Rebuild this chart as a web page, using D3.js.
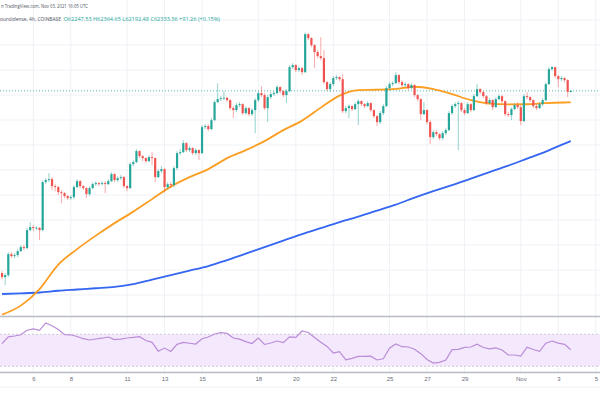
<!DOCTYPE html>
<html>
<head>
<meta charset="utf-8">
<script src="https://d3js.org/d3.v7.min.js"></script>
<style>
  body { margin: 0; background: #fff; }
  svg { display: block; font-family: "Open Sans", "DejaVu Sans", sans-serif; }
</style>
</head>
<body>
<div id="my_dataviz"></div>
<script>

    // BTC/USD 4h (Coinbase), one bar every 4 hours starting Oct 4 2021 08:00 UTC
    var firstBar = Date.UTC(2021, 9, 4, 8);
    var barMs = 4 * 3600 * 1000;
    var firstOpen = 47750;

    var closes = [
        47430, 47590, 49270, 49110, 49190, 49510, 49830, 49750, 51190, 51430,
        51350, 51380, 51190, 55030, 55190, 55270, 54710, 54630, 54230, 54150,
        53910, 53750, 53830, 54630, 55110, 54710, 54550, 54070, 54550, 54870,
        54950, 54870, 54950, 54870, 55110, 55670, 55190, 55350, 55430, 54710,
        54550, 56470, 56630, 57510, 57110, 56950, 56710, 57030, 56950, 55430,
        55910, 56070, 54630, 54870, 54790, 56150, 57350, 57430, 58150, 57590,
        57750, 57350, 57590, 57350, 59430, 59510, 59270, 59990, 61430, 61670,
        61750, 61780, 61590, 60950, 60790, 61190, 61270, 60550, 60950, 60470,
        60790, 61590, 62150, 61990, 60950, 61830, 62070, 62150, 62630, 62310,
        61990, 62310, 64230, 64390, 63990, 64150, 63830, 66870, 66550, 65990,
        65430, 65110, 64950, 63030, 62470, 62870, 63350, 63430, 63270, 60710,
        60950, 61110, 60870, 61270, 61510, 61270, 61110, 61350, 60790, 60310,
        59830, 60550, 61110, 62550, 62870, 62950, 63590, 63030, 62790, 62870,
        62550, 62790, 61990, 61670, 60470, 60790, 59830, 58630, 59030, 58870,
        58550, 58950, 59190, 60550, 61110, 61270, 61350, 60790, 60550, 61270,
        60790, 61910, 62470, 62230, 61910, 61350, 61590, 61030, 61670, 61910,
        61510, 60470, 60390, 60870, 61190, 61030, 59910, 61910, 61830, 61590,
        61110, 60950, 61270, 61590, 62870, 64070, 64230, 63510, 63270, 63350,
        63190, 62247.53, 62333.36
    ];
    var highs = [
        47910, 47750, 49430, 49430, 49350, 49670, 49990, 49990, 51350, 51830,
        51590, 51510, 51430, 55190, 55350, 55750, 55430, 54870, 54710, 54390,
        54230, 53990, 53990, 54790, 55270, 55190, 54790, 54630, 54710, 55030,
        55110, 55030, 55110, 55110, 55270, 55830, 55750, 55510, 55590, 55510,
        54790, 56630, 56790, 57670, 57590, 57190, 57030, 57190, 57430, 57030,
        56070, 56310, 56150, 55030, 55030, 56310, 57510, 57670, 58390, 58230,
        57910, 57830, 57750, 57670, 59590, 59670, 59670, 60150, 61590, 62950,
        61910, 62310, 61830, 61670, 61110, 61350, 61430, 61350, 61110, 61030,
        60950, 61750, 62310, 62710, 62150, 61990, 62230, 62310, 62790, 62710,
        62390, 62470, 64390, 64550, 64470, 64310, 64230, 66999, 66950, 66630,
        66070, 65590, 66630, 65590, 63110, 63030, 63510, 63590, 63510, 63670,
        61110, 61270, 61190, 61430, 61670, 61590, 61350, 61510, 61430, 60870,
        60390, 60710, 61270, 62710, 63030, 63110, 63830, 63670, 63190, 63030,
        62950, 62950, 62870, 62070, 61750, 61430, 60870, 59990, 59190, 59190,
        58950, 59110, 59350, 60710, 61270, 61430, 61510, 61430, 60950, 61430,
        61350, 62070, 62870, 62550, 62310, 61990, 61750, 61670, 61830, 62070,
        61990, 61590, 60630, 61030, 61350, 61430, 61190, 62070, 62230, 61910,
        61670, 61270, 61430, 61750, 63030, 64230, 64310, 64230, 63590, 63510,
        63430, 63270, 62364.65
    ];
    var lows = [
        47270, 46790, 47430, 48950, 48950, 49030, 49430, 49590, 49670, 51110,
        51110, 51190, 50390, 51110, 54870, 55030, 54390, 54310, 53990, 53350,
        53750, 53590, 53590, 53670, 54550, 54550, 54390, 53750, 53910, 54470,
        54710, 54710, 54790, 54150, 54790, 55030, 55030, 55030, 55190, 54550,
        54310, 54470, 56310, 56550, 56950, 56710, 56550, 56630, 56390, 55030,
        55350, 55750, 54230, 54470, 54550, 54630, 55990, 57190, 57350, 57430,
        57430, 57190, 57190, 56790, 57270, 59270, 59110, 59190, 59910, 61350,
        61510, 61590, 61430, 60790, 60150, 60630, 61030, 60390, 60390, 60310,
        60310, 58950, 61430, 61830, 60790, 59830, 61670, 61910, 62070, 62150,
        61830, 61350, 62230, 64070, 63830, 63830, 63590, 63750, 66390, 65830,
        64150, 64950, 64790, 62870, 62310, 62230, 62710, 63190, 63110, 60550,
        60550, 60150, 60710, 60790, 59590, 61110, 60950, 61030, 60630, 60150,
        59510, 59670, 60390, 61030, 62390, 62710, 62870, 62870, 62630, 62630,
        62390, 62470, 61830, 61510, 59990, 60390, 59670, 58070, 58470, 58710,
        58390, 58390, 58790, 59110, 60390, 60950, 57590, 60630, 60390, 60470,
        60630, 60710, 61830, 62070, 61750, 61190, 61270, 60790, 60950, 61590,
        61350, 60310, 60230, 59990, 60790, 60870, 59590, 59830, 61670, 61430,
        60950, 60790, 60870, 61110, 61510, 62790, 63910, 63350, 62630, 63110,
        63030, 61830, 62192.48
    ];

    // moving averages read once per day (every 6th bar) plus the last bar
    var maStep = 6;
    var ma50 = [44430, 45150, 46470, 48430, 49670, 50750, 51750, 52670, 53670, 54670,
        55430, 56070, 56950, 57590, 58310, 59190, 59950, 60990, 61950, 62390,
        62420, 62490, 62660, 62470, 62070, 61590, 61310, 61250, 61260, 61350,
        61400, 61410];
    var ma200 = [46080, 46130, 46200, 46340, 46440, 46540, 46650, 46870, 47230, 47590,
        47950, 48310, 48790, 49310, 49830, 50350, 50870, 51350, 51830, 52270,
        52750, 53230, 53790, 54310, 54790, 55310, 55830, 56350, 56910, 57470,
        58110, 58310];

    // RSI(14), every 2nd bar
    var rsiStep = 2;
    var rsiValues = [58.3, 66.9, 67.9, 69.4, 75.1, 76.8, 74.9, 84.3, 80.8, 76.0,
        69.6, 69.4, 67.3, 64.5, 62.9, 64.1, 65.1, 66.6, 63.3, 63.9,
        65.4, 66.1, 67.0, 62.3, 60.0, 48.9, 52.8, 48.5, 57.5, 59.8,
        58.8, 57.8, 64.5, 66.6, 70.4, 72.0, 71.1, 65.4, 63.9, 60.9,
        58.5, 65.4, 57.3, 59.1, 61.6, 59.5, 66.9, 66.1, 74.1, 72.3,
        65.9, 60.1, 54.8, 46.6, 48.3, 38.1, 40.0, 42.3, 42.4, 42.6,
        37.9, 39.4, 52.6, 57.9, 54.5, 54.1, 51.3, 45.8, 38.6, 34.1,
        34.9, 37.9, 50.8, 51.1, 53.6, 54.1, 57.6, 53.5, 51.9, 52.9,
        50.4, 44.1, 44.1, 42.9, 53.8, 51.0, 48.6, 58.8, 61.6, 59.0,
        57.5, 50.6];

    var tickDates = [Date.UTC(2021, 9, 6), Date.UTC(2021, 9, 8), Date.UTC(2021, 9, 11),
        Date.UTC(2021, 9, 13), Date.UTC(2021, 9, 15), Date.UTC(2021, 9, 18),
        Date.UTC(2021, 9, 20), Date.UTC(2021, 9, 22), Date.UTC(2021, 9, 25),
        Date.UTC(2021, 9, 27), Date.UTC(2021, 9, 29), Date.UTC(2021, 10, 1),
        Date.UTC(2021, 10, 3), Date.UTC(2021, 10, 5)];
    var tickLabels = ["6", "8", "11", "13", "15", "18", "20", "22", "25", "27", "29", "Nov", "3", "5"];

    var width = 600, height = 400;
    var up = "#26a69a", down = "#ef5350";

    var svg = d3.select("#my_dataviz")
        .append("svg")
        .attr("width", width)
        .attr("height", height);

    var x = d3.scaleUtc()
        .domain([tickDates[0], tickDates[tickDates.length - 1]])
        .range([33.3, 595.8]);
    var y = d3.scaleLinear()
        .domain([44400, 68000])
        .range([315, 20]);
    var yr = d3.scaleLinear()
        .domain([30, 70])
        .range([366.3, 334.3]);

    var bars = closes.map(function (c, i) {
        return { t: firstBar + i * barMs, o: i ? closes[i - 1] : firstOpen, h: highs[i], l: lows[i], c: c };
    });
    function barTime(i) { return firstBar + i * barMs; }

    // grid
    svg.append("g").selectAll("line")
        .data(tickDates).enter().append("line")
        .attr("x1", function (d) { return x(d) }).attr("x2", function (d) { return x(d) })
        .attr("y1", 0).attr("y2", 372)
        .attr("stroke", "#eef1f6").attr("stroke-width", 1);
    svg.append("g").selectAll("line")
        .data(y.ticks(10)).enter().append("line")
        .attr("x1", 0).attr("x2", width)
        .attr("y1", function (d) { return y(d) }).attr("y2", function (d) { return y(d) })
        .attr("stroke", "#eef1f6").attr("stroke-width", 1);

    svg.append("clipPath").attr("id", "mainClip")
        .append("rect").attr("x", 0).attr("y", 0).attr("width", width).attr("height", 316);
    var main = svg.append("g").attr("clip-path", "url(#mainClip)");

    // last price line
    main.append("line")
        .attr("x1", 0).attr("x2", width)
        .attr("y1", y(closes[closes.length - 1])).attr("y2", y(closes[closes.length - 1]))
        .attr("stroke", up).attr("stroke-width", 0.8)
        .attr("stroke-dasharray", "1,2");

    // moving averages
    var maLine = d3.line()
        .x(function (d, i) { return x(barTime(Math.min(i * maStep, closes.length - 1))) })
        .y(function (d) { return y(d) })
        .curve(d3.curveMonotoneX);
    main.append("path").datum(ma200)
        .attr("d", maLine).attr("fill", "none")
        .attr("stroke", "#3566f2").attr("stroke-width", 1.8);
    main.append("path").datum(ma50)
        .attr("d", maLine).attr("fill", "none")
        .attr("stroke", "#fb9e22").attr("stroke-width", 1.8);

    // candles
    main.append("g").selectAll("line")
        .data(bars).enter().append("line")
        .attr("x1", function (d) { return x(d.t) }).attr("x2", function (d) { return x(d.t) })
        .attr("y1", function (d) { return y(d.h) }).attr("y2", function (d) { return y(d.l) })
        .attr("stroke", function (d) { return d.c >= d.o ? up : down })
        .attr("stroke-opacity", 0.55)
        .attr("stroke-width", 0.9);
    main.append("g").selectAll("rect")
        .data(bars).enter().append("rect")
        .attr("x", function (d) { return x(d.t) - 1.1 })
        .attr("width", 2.2)
        .attr("y", function (d) { return y(Math.max(d.o, d.c)) })
        .attr("height", function (d) { return Math.max(0.8, Math.abs(y(d.o) - y(d.c))) })
        .attr("fill", function (d) { return d.c >= d.o ? up : down });

    // pane separators
    svg.append("line").attr("x1", 0).attr("x2", width).attr("y1", 316.5).attr("y2", 316.5)
        .attr("stroke", "#b8bbc4").attr("stroke-width", 1.4);
    svg.append("line").attr("x1", 0).attr("x2", width).attr("y1", 372.5).attr("y2", 372.5)
        .attr("stroke", "#b8bbc4").attr("stroke-width", 1.4);
    svg.append("line").attr("x1", 0).attr("x2", width).attr("y1", 387).attr("y2", 387)
        .attr("stroke", "#f0f1f4").attr("stroke-width", 1);

    // RSI pane
    svg.append("rect")
        .attr("x", 0).attr("width", width)
        .attr("y", yr(70)).attr("height", yr(30) - yr(70))
        .attr("fill", "#f3e8fc");
    svg.append("g").selectAll("line")
        .data([70, 30]).enter().append("line")
        .attr("x1", 0).attr("x2", width)
        .attr("y1", function (d) { return yr(d) }).attr("y2", function (d) { return yr(d) })
        .attr("stroke", "#c4c0cc").attr("stroke-width", 0.8)
        .attr("stroke-dasharray", "2,2");
    svg.append("path").datum(rsiValues)
        .attr("d", d3.line()
            .x(function (d, i) { return x(barTime(i * rsiStep)) })
            .y(function (d) { return yr(d) }))
        .attr("fill", "none")
        .attr("stroke", "#bb8cd8").attr("stroke-width", 1.2);

    // time axis
    var axis = svg.append("g")
        .attr("transform", "translate(0,377)")
        .call(d3.axisBottom(x).tickValues(tickDates)
            .tickFormat(function (d, i) { return tickLabels[i] })
            .tickSize(0).tickPadding(0));
    axis.select(".domain").remove();
    axis.selectAll("text")
        .attr("fill", "#6a6d78")
        .style("font-size", "6px");

    // header
    svg.append("text")
        .attr("x", 1).attr("y", 8)
        .attr("textLength", 87).attr("lengthAdjust", "spacingAndGlyphs")
        .attr("fill", "#50535e").style("font-size", "5.4px")
        .text("n TradingView.com, Nov 03, 2021 16:05 UTC");
    svg.append("text")
        .attr("x", 0).attr("y", 20.5)
        .attr("textLength", 61).attr("lengthAdjust", "spacingAndGlyphs")
        .attr("fill", "#50535e").style("font-size", "5.4px")
        .text("ourslidense, 4h, COINBASE");
    svg.append("text")
        .attr("x", 63.5).attr("y", 20.5)
        .attr("textLength", 156.5).attr("lengthAdjust", "spacingAndGlyphs")
        .attr("fill", up).style("font-size", "5.4px")
        .text("O62247.53  H62364.65  L62192.48  C62333.36  +91.26 (+0.15%)");

</script>
</body>
</html>
